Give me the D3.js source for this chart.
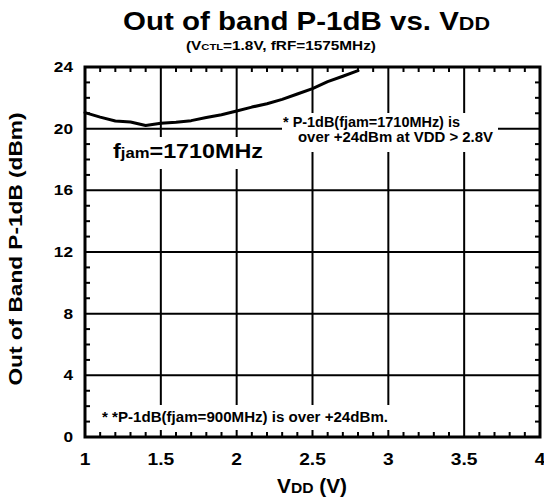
<!DOCTYPE html>
<html>
<head>
<meta charset="utf-8">
<script src="https://cdn.jsdelivr.net/npm/d3@7"></script>
<style>
  html, body { margin: 0; padding: 0; background: #fff; }
  svg { display: block; }
  text { font-family: "Liberation Sans", Arial, sans-serif; font-weight: bold; fill: #000; }
</style>
</head>
<body>
<svg id="chart" width="544" height="500"></svg>
<script>
// ---- data ----
const vdd  = [1.0, 1.1, 1.2, 1.3, 1.4, 1.5, 1.6, 1.7, 1.8, 1.9, 2.0, 2.1, 2.2, 2.3, 2.4, 2.5, 2.6, 2.7, 2.8];
const p1db = [21.04, 20.75, 20.5, 20.43, 20.2, 20.35, 20.42, 20.52, 20.72, 20.9, 21.15, 21.4, 21.62, 21.9, 22.25, 22.6, 23.05, 23.4, 23.76];
const xTicks = [1, 1.5, 2, 2.5, 3, 3.5, 4];
const xTickLabels = ["1", "1.5", "2", "2.5", "3", "3.5", "4"];
const yTicks = [0, 4, 8, 12, 16, 20, 24];
const yTickLabels = ["0", "4", "8", "12", "16", "20", "24"];

const svg = d3.select("#chart");
const L = 85, R = 540, T = 67, B = 437;
const x = d3.scaleLinear().domain([1, 4]).range([L, R]);
const y = d3.scaleLinear().domain([0, 24]).range([B, T]);

function sText(g, px, py, str, anchor, size, sx) {
  return g.append("text")
    .attr("transform", `translate(${px},${py}) scale(${sx},1)`)
    .attr("text-anchor", anchor)
    .style("font-size", size + "px")
    .text(str);
}

// gridlines
const grid = svg.append("g");
grid.selectAll(".vg").data(xTicks.slice(1, -1)).enter().append("line")
  .attr("x1", d => x(d)).attr("x2", d => x(d)).attr("y1", T).attr("y2", B)
  .attr("stroke", "#000").attr("stroke-width", 2);
grid.selectAll(".hg").data(yTicks.slice(1, -1)).enter().append("line")
  .attr("y1", d => y(d)).attr("y2", d => y(d)).attr("x1", L).attr("x2", R)
  .attr("stroke", "#000").attr("stroke-width", 2);

// minor ticks
const xMinor = d3.range(1.1, 4.0, 0.1).filter(v => Math.abs(v * 2 - Math.round(v * 2)) > 1e-6);
const yMinor = d3.range(1, 24, 1).filter(v => v % 4 !== 0);
const tk = svg.append("g").attr("stroke", "#000").attr("stroke-width", 2);
xMinor.forEach(v => {
  tk.append("line").attr("x1", x(v)).attr("x2", x(v)).attr("y1", B).attr("y2", B - 5);
  tk.append("line").attr("x1", x(v)).attr("x2", x(v)).attr("y1", T).attr("y2", T + 5);
});
yMinor.forEach(v => {
  tk.append("line").attr("y1", y(v)).attr("y2", y(v)).attr("x1", L).attr("x2", L + 5);
  tk.append("line").attr("y1", y(v)).attr("y2", y(v)).attr("x1", R).attr("x2", R - 5);
});

// white annotation boxes
const boxes = svg.append("g");
boxes.append("rect").attr("x", 282).attr("y", 113).attr("width", 216).attr("height", 39).attr("fill", "#fff");
boxes.append("rect").attr("x", 108).attr("y", 137).attr("width", 160).attr("height", 32).attr("fill", "#fff");
boxes.append("rect").attr("x", 97).attr("y", 405).attr("width", 295).attr("height", 25).attr("fill", "#fff");

// annotations
const ann = svg.append("g");
ann.append("text").attr("x", 283).attr("y", 127).style("font-size", "14px")
  .attr("textLength", 177).attr("lengthAdjust", "spacingAndGlyphs")
  .text("* P-1dB(fjam=1710MHz) is");
ann.append("text").attr("x", 298).attr("y", 142).style("font-size", "14px")
  .attr("textLength", 195).attr("lengthAdjust", "spacingAndGlyphs")
  .text("over +24dBm at VDD > 2.8V");
ann.append("text").attr("x", 102).attr("y", 422).style("font-size", "14px")
  .attr("textLength", 286).attr("lengthAdjust", "spacingAndGlyphs")
  .text("* *P-1dB(fjam=900MHz) is over +24dBm.");
const fj = ann.append("text").attr("x", 113).attr("y", 158).style("font-size", "21px")
  .attr("textLength", 150).attr("lengthAdjust", "spacingAndGlyphs");
fj.append("tspan").text("f");
fj.append("tspan").style("font-size", "15px").text("jam");
fj.append("tspan").text("=1710MHz");

// curve
const line = d3.line().x((d, i) => x(vdd[i])).y(d => y(d)).curve(d3.curveLinear);
svg.append("path").datum(p1db).attr("d", line)
  .attr("fill", "none").attr("stroke", "#000").attr("stroke-width", 3)
  .attr("stroke-linejoin", "round").attr("stroke-linecap", "round");

// frame
svg.append("rect").attr("x", L).attr("y", T).attr("width", R - L).attr("height", B - T)
  .attr("fill", "none").attr("stroke", "#000").attr("stroke-width", 3);

// tick labels
const lab = svg.append("g");
xTicks.forEach((v, i) => sText(lab, x(v), 465, xTickLabels[i], "middle", 16, 1.2));
yTicks.forEach((v, i) => sText(lab, 73, y(v) + 5, yTickLabels[i], "end", 15, 1.15));

// title
const title = svg.append("text").attr("x", 123).attr("y", 30).style("font-size", "26px")
  .attr("textLength", 367).attr("lengthAdjust", "spacingAndGlyphs");
title.append("tspan").text("Out of band P-1dB vs. V");
title.append("tspan").style("font-size", "19px").text("DD");

const sub = svg.append("text").attr("x", 186).attr("y", 50).style("font-size", "13px")
  .attr("textLength", 190).attr("lengthAdjust", "spacingAndGlyphs");
sub.append("tspan").text("(V");
sub.append("tspan").style("font-size", "9.5px").text("CTL");
sub.append("tspan").text("=1.8V, fRF=1575MHz)");

// axis titles
const xl = svg.append("text").attr("x", 277).attr("y", 493).style("font-size", "20px")
  .attr("textLength", 70).attr("lengthAdjust", "spacingAndGlyphs");
xl.append("tspan").text("V");
xl.append("tspan").style("font-size", "15px").text("DD");
xl.append("tspan").text(" (V)");

svg.append("text").attr("transform", "translate(22,249) rotate(-90)")
  .attr("text-anchor", "middle").style("font-size", "18px")
  .attr("textLength", 273).attr("lengthAdjust", "spacingAndGlyphs")
  .text("Out of Band P-1dB (dBm)");
</script>
</body>
</html>
